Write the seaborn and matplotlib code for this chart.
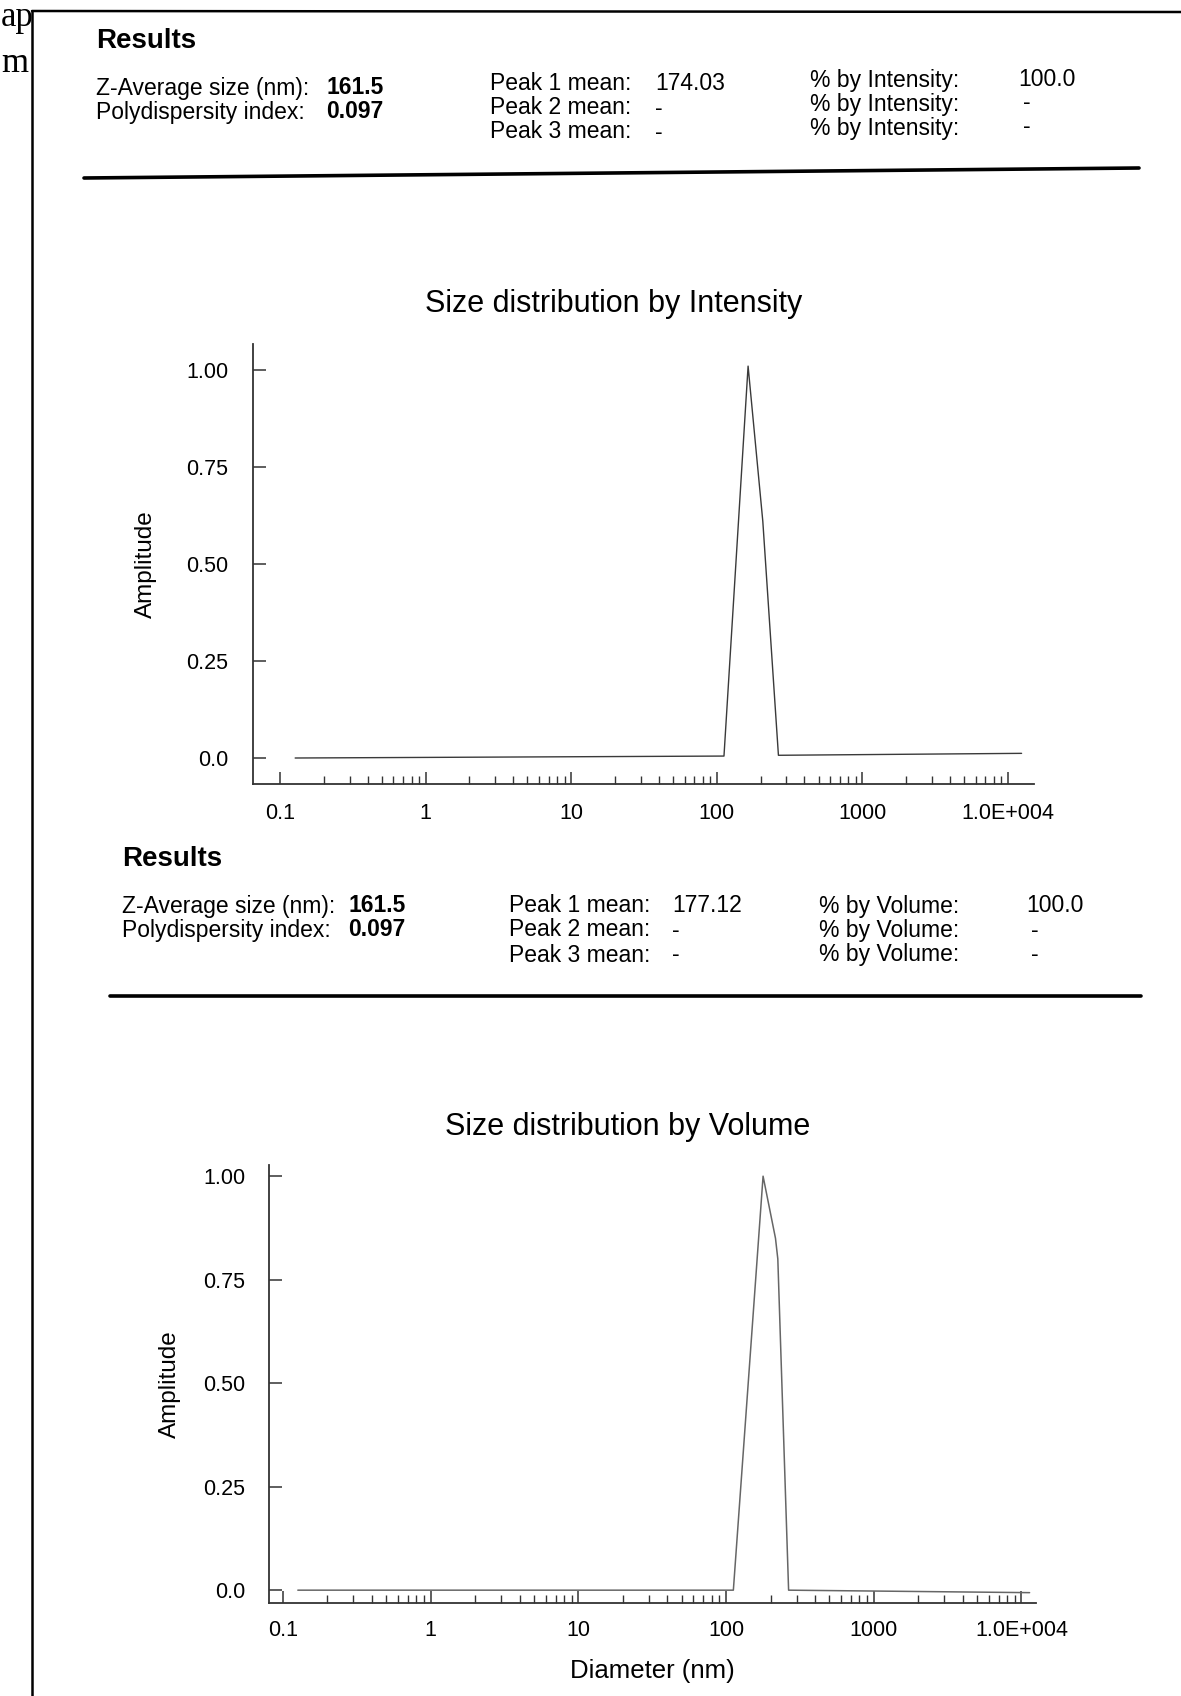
import numpy as np
import pandas as pd
import matplotlib
matplotlib.use('Agg')
import matplotlib.pyplot as plt
import matplotlib.ticker as mticker
from matplotlib.patches import Rectangle
import seaborn as sns

# ---------------------------------------------------------
# data
# ---------------------------------------------------------
intensity_size = [0.127, 112, 164, 207, 265, 12400]
intensity_amp = [0.0, 0.005, 1.01, 0.61, 0.007, 0.012]

volume_size = [0.126, 112, 178, 216, 224, 265, 11350]
volume_amp = [0.0, 0.0, 1.0, 0.85, 0.80, 0.0, -0.006]

x_ticks = [0.1, 1, 10, 100, 1000, 10000]
x_ticklabels = ['0.1', '1', '10', '100', '1000', '1.0E+004']
y_ticks = [0.0, 0.25, 0.5, 0.75, 1.0]
y_ticklabels = ['0.0', '0.25', '0.50', '0.75', '1.00']

z_average = '161.5'
pdi = '0.097'
peak_means_int = ['174.03', '-', '-']
pct_int = ['100.0', '-', '-']
peak_means_vol = ['177.12', '-', '-']
pct_vol = ['100.0', '-', '-']

sns.set_theme(style='ticks')
plt.rcParams['font.family'] = ['Liberation Sans', 'DejaVu Sans']
plt.rcParams['text.color'] = 'black'
plt.rcParams['axes.labelcolor'] = 'black'
plt.rcParams['xtick.color'] = 'black'
plt.rcParams['ytick.color'] = 'black'

W, H = 1181, 1696
fig = plt.figure(figsize=(W / 100, H / 100), dpi=100)
fig.patch.set_facecolor('white')

# overlay in pixel coords for the page bits (frame, results, rules)
ov = fig.add_axes([0, 0, 1, 1], zorder=-1)
ov.set_xlim(0, W)
ov.set_ylim(H, 0)
ov.axis('off')

# page frame of the pasted image
ov.plot([32, 32], [11, H], color='black', lw=1.8)
ov.plot([32, W], [11, 12], color='black', lw=1.8)
clip = Rectangle((0, 0), 31, H, transform=ov.transData)
for s, yy in [('ap', 17), ('m', 63)]:
    t = ov.text(1, yy, s, family=['Liberation Serif', 'DejaVu Serif'], fontsize=25,
                va='center', ha='left', color='black')
    t.set_clip_path(clip)


def results_block(x0, y0, cols, rows_y, peaks, pcts, pct_label, skew):
    ov.text(x0, y0, 'Results', fontsize=20, fontweight='bold', va='center', ha='left')
    c1, c2, c3, c4, c5, c6 = cols
    ov.text(c1, rows_y[0] + skew[0], 'Z-Average size (nm):', fontsize=16.5, va='center')
    ov.text(c1, rows_y[1] + skew[0], 'Polydispersity index:', fontsize=16.5, va='center')
    ov.text(c2, rows_y[0] + skew[0], z_average, fontsize=16.5, fontweight='bold', va='center')
    ov.text(c2, rows_y[1] + skew[0], pdi, fontsize=16.5, fontweight='bold', va='center')
    for i in range(3):
        ov.text(c3, rows_y[i] + skew[1], f'Peak {i + 1} mean:', fontsize=16.5, va='center')
        ov.text(c4, rows_y[i] + skew[1], peaks[i], fontsize=16.5, va='center')
        ov.text(c5, rows_y[i] + skew[2], pct_label, fontsize=16.5, va='center')
        ov.text(c6 if pcts[i] != '-' else c6 + 5, rows_y[i] + skew[3], pcts[i],
                fontsize=16.5, va='center')


results_block(96, 41, [96, 326, 490, 655, 810, 1018], [88, 112, 136],
              peak_means_int, pct_int, '% by Intensity:', [0, -4, -7, -9])
ov.plot([84, 1139], [178, 168], color='black', lw=2.6)

results_block(122, 859, [122, 348, 509, 672, 819, 1026], [906, 930, 955],
              peak_means_vol, pct_vol, '% by Volume:', [0, 0, 0, 0])
ov.plot([110, 1141], [996, 996], color='black', lw=2.6)

# minor ticks only from 0.2 upward (none before the 0.1 tick on the scan)
minor_ticks = [m * 10.0 ** e for e in range(-1, 4) for m in range(2, 10)]


# ---------------------------------------------------------
# the two distributions
# ---------------------------------------------------------
def style_axes(ax, xlim, ylim, ypad, xpad):
    ax.set_xscale('log')
    ax.set_xlim(*xlim)
    ax.set_ylim(*ylim)
    ax.set_xticks(x_ticks)
    ax.set_xticklabels(x_ticklabels)
    ax.xaxis.set_minor_locator(mticker.FixedLocator(minor_ticks))
    ax.xaxis.set_minor_formatter(mticker.NullFormatter())
    ax.set_yticks(y_ticks)
    ax.set_yticklabels(y_ticklabels)
    ax.tick_params(axis='x', which='major', direction='in', length=9, width=1.1,
                   color='#333333', labelsize=15.5, pad=xpad, labelcolor='black')
    ax.tick_params(axis='x', which='minor', direction='in', length=5.8, width=1.0,
                   color='#333333')
    ax.tick_params(axis='y', which='major', direction='in', length=9.4, width=1.1,
                   color='#333333', labelsize=15.5, pad=ypad, labelcolor='black')
    for side in ['top', 'right']:
        ax.spines[side].set_visible(False)
    for side in ['left', 'bottom']:
        ax.spines[side].set_color('#333333')
        ax.spines[side].set_linewidth(1.3)
    ax.set_facecolor('white')
    ax.grid(False)


ax1 = fig.add_axes([253 / W, 1 - 784 / H, 781 / W, 440 / H])
sns.lineplot(x=intensity_size, y=intensity_amp, ax=ax1, color='#3a3a3a', lw=1.0,
             estimator=None, sort=False)
style_axes(ax1, (0.0652, 15090), (-0.067, 1.067), ypad=18, xpad=13.5)
ax1.set_ylabel('Amplitude', fontsize=17.5)
ax1.yaxis.set_label_coords((157 - 253) / 781, 0.5)
ax1.set_xlabel('')

ax2 = fig.add_axes([269 / W, 1 - 1603 / H, 767 / W, 438 / H])
sns.lineplot(x=volume_size, y=volume_amp, ax=ax2, color='#666666', lw=1.1,
             estimator=None, sort=False)
style_axes(ax2, (0.0804, 12540), (-0.031, 1.027), ypad=17, xpad=12)
ax2.set_ylabel('Amplitude', fontsize=17.5)
ax2.yaxis.set_label_coords((181 - 269) / 767, 0.5)
ax2.set_xlabel('')

ov.text(614, 304, 'Size distribution by Intensity', fontsize=22, ha='center', va='center')
ov.text(628, 1127, 'Size distribution by Volume', fontsize=22, ha='center', va='center')
ov.text(652, 1671, 'Diameter (nm)', fontsize=18.5, ha='center', va='center')

fig.savefig('out.png', dpi=100, facecolor='white')
